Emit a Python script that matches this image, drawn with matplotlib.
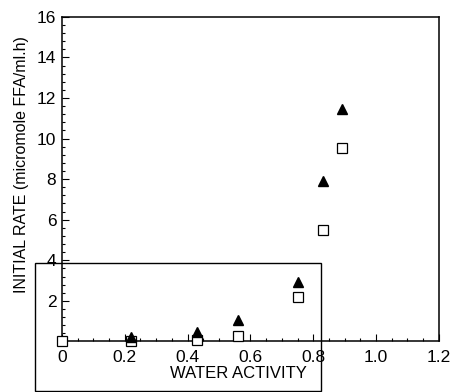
import matplotlib
matplotlib.use("Agg")
import matplotlib.pyplot as plt
from matplotlib.patches import Rectangle
from matplotlib.ticker import MultipleLocator, FixedLocator

plt.rcParams['font.family'] = ['Liberation Sans Narrow', 'Liberation Sans', 'DejaVu Sans']

# filled triangles
aw_tri = [0.22, 0.43, 0.56, 0.75, 0.83, 0.89]
rate_tri = [0.24, 0.45, 1.06, 2.95, 7.9, 11.45]
# open squares
aw_sq = [0.0, 0.22, 0.43, 0.56, 0.75, 0.83, 0.89]
rate_sq = [0.03, 0.03, 0.05, 0.27, 2.18, 5.5, 9.55]

x_ticks = [0, 0.2, 0.4, 0.6, 0.8, 1.0, 1.2]
x_labels = ['0', '0.2', '0.4', '0.6', '0.8', '1.0', '1.2']
y_ticks = [2, 4, 6, 8, 10, 12, 14, 16]

fig = plt.figure(figsize=(4.52, 3.92), dpi=100)
ax = fig.add_axes([0.137, 0.129, 0.834, 0.828])

ax.plot(aw_sq, rate_sq, linestyle='none', marker='s', markerfacecolor='white',
        markeredgecolor='black', markeredgewidth=0.9, markersize=6.5, clip_on=False, zorder=3)
ax.plot(aw_tri, rate_tri, linestyle='none', marker='^', color='black', markersize=7, clip_on=False, zorder=4)

ax.set_xlim(0, 1.2)
ax.set_ylim(0, 16)
ax.xaxis.set_major_locator(FixedLocator(x_ticks))
ax.set_xticklabels(x_labels)
ax.xaxis.set_minor_locator(MultipleLocator(0.05))
ax.yaxis.set_major_locator(FixedLocator(y_ticks))
ax.yaxis.set_minor_locator(MultipleLocator(0.4))
ax.tick_params(which='both', direction='in', top=False, right=False, labelsize=12.5, width=0.8)
ax.tick_params(which='major', length=5)
ax.tick_params(which='minor', length=2.5)
ax.tick_params(axis='x', pad=6)
ax.tick_params(axis='y', pad=4)
for s in ax.spines.values():
    s.set_linewidth(1.1)

ax.set_xlabel('WATER ACTIVITY', fontsize=12)
ax.xaxis.set_label_coords(0.467, -0.075)
ax.set_ylabel('INITIAL RATE (micromole FFA/ml.h)', fontsize=11.5)
ax.yaxis.set_label_coords(-0.088, 0.545)

# frame left over from the scanned page
fig.patches.append(Rectangle((35 / 452, 1 - 391 / 392), (321 - 35) / 452, (391 - 263) / 392,
                             transform=fig.transFigure, fill=False, edgecolor='black', linewidth=1.0))

fig.savefig('out.png', dpi=100)
